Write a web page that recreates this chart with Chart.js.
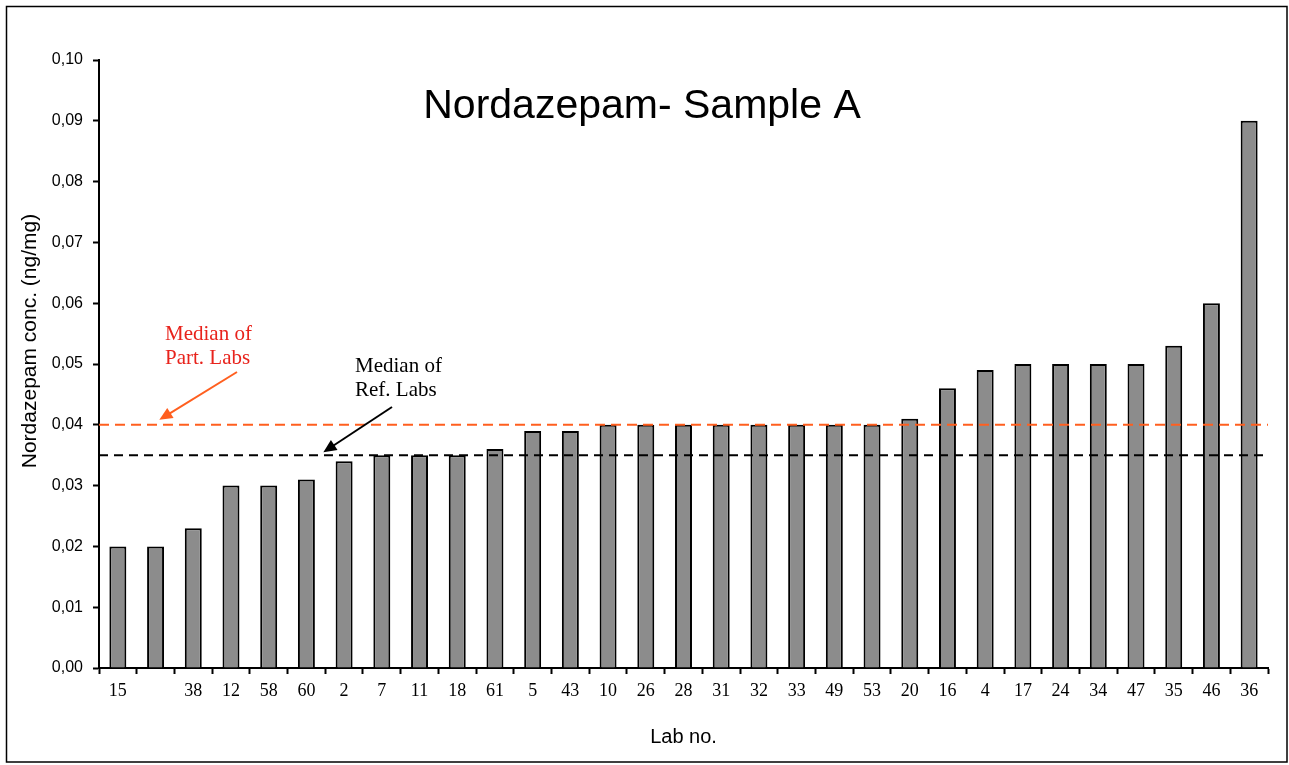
<!DOCTYPE html>
<html>
<head>
<meta charset="utf-8">
<script src="https://cdn.jsdelivr.net/npm/chart.js@4"></script>
<style>
  html, body { margin: 0; padding: 0; background: #fff; }
  #wrap { width: 1289px; height: 765px; position: relative; }
</style>
</head>
<body>
<div id="wrap"><canvas id="chart" width="1289" height="765"></canvas></div>
<script>
const LABS = ['15', '', '38', '12', '58', '60', '2', '7', '11', '18', '61', '5', '43', '10', '26', '28',
  '31', '32', '33', '49', '53', '20', '16', '4', '17', '24', '34', '47', '35', '46', '36'];
const CONC = [0.020, 0.020, 0.023, 0.030, 0.030, 0.031, 0.034, 0.035, 0.035, 0.035, 0.036, 0.039, 0.039,
  0.040, 0.040, 0.040, 0.040, 0.040, 0.040, 0.040, 0.040, 0.041, 0.046, 0.049, 0.050, 0.050, 0.050,
  0.050, 0.053, 0.060, 0.090];
const Y_MIN = 0, Y_MAX = 0.10, Y_STEP = 0.01;
const MEDIAN_PART = 0.040;
const MEDIAN_REF = 0.035;
const TITLE = 'Nordazepam- Sample A';
const Y_TITLE = 'Nordazepam conc. (ng/mg)';

const SANS = '"Liberation Sans", Arial, sans-serif';
const SERIF = '"Liberation Serif", "Times New Roman", serif';
const ORANGE = '#ff5f1f';
const RED = '#e8231c';

function arrow(ctx, x1, y1, x2, y2, color) {
  const ang = Math.atan2(y2 - y1, x2 - x1);
  const head = 13, wing = 6;
  ctx.save();
  ctx.strokeStyle = color;
  ctx.fillStyle = color;
  ctx.lineWidth = 2;
  ctx.beginPath();
  ctx.moveTo(x1, y1);
  ctx.lineTo(x2 - Math.cos(ang) * head * 0.8, y2 - Math.sin(ang) * head * 0.8);
  ctx.stroke();
  ctx.beginPath();
  ctx.moveTo(x2, y2);
  ctx.lineTo(x2 - Math.cos(ang) * head + Math.sin(ang) * wing, y2 - Math.sin(ang) * head - Math.cos(ang) * wing);
  ctx.lineTo(x2 - Math.cos(ang) * head - Math.sin(ang) * wing, y2 - Math.sin(ang) * head + Math.cos(ang) * wing);
  ctx.closePath();
  ctx.fill();
  ctx.restore();
}

const extras = {
  id: 'extras',
  beforeDraw(chart) {
    const ctx = chart.ctx;
    ctx.save();
    ctx.fillStyle = '#fff';
    ctx.fillRect(0, 0, chart.width, chart.height);
    ctx.strokeStyle = '#000';
    ctx.lineWidth = 1.5;
    ctx.strokeRect(6.5, 6.5, 1280.5, 755.5);
    ctx.restore();
  },
  afterDatasetsDraw(chart) {
    const ctx = chart.ctx;
    const area = chart.chartArea;
    const x = chart.scales.x, y = chart.scales.y;

    // median lines
    const yPart = y.getPixelForValue(MEDIAN_PART);
    const yRef = y.getPixelForValue(MEDIAN_REF);
    ctx.save();
    ctx.lineWidth = 2;
    ctx.setLineDash([10, 6]);
    ctx.strokeStyle = ORANGE;
    ctx.beginPath();
    ctx.moveTo(area.left, yPart);
    ctx.lineTo(area.right, yPart);
    ctx.stroke();
    ctx.setLineDash([9, 6]);
    ctx.strokeStyle = '#000';
    ctx.beginPath();
    ctx.moveTo(area.left, yRef);
    ctx.lineTo(area.right, yRef);
    ctx.stroke();
    ctx.restore();

    // annotations
    ctx.save();
    ctx.font = '21px ' + SERIF;
    ctx.textBaseline = 'middle';
    ctx.textAlign = 'left';
    ctx.fillStyle = RED;
    ctx.fillText('Median of', 165, 334);
    ctx.fillText('Part. Labs', 165, 358);
    ctx.fillStyle = '#000';
    ctx.fillText('Median of', 355, 366);
    ctx.fillText('Ref. Labs', 355, 390);
    ctx.restore();

    const tipPartX = x.getPixelForValue(1.1);
    const tipRefX = x.getPixelForValue(5.45);
    arrow(ctx, 237, 372, tipPartX, yPart - 5, ORANGE);
    arrow(ctx, 392, 407, tipRefX, yRef - 3, '#000');

    // chart title inside plot
    ctx.save();
    ctx.font = '41px ' + SANS;
    ctx.fillStyle = '#000';
    ctx.textAlign = 'center';
    ctx.textBaseline = 'middle';
    ctx.fillText(TITLE, 642, 107);
    ctx.restore();

    // y axis title
    ctx.save();
    ctx.translate(30, 341);
    ctx.rotate(-Math.PI / 2);
    ctx.font = '21px ' + SANS;
    ctx.fillStyle = '#000';
    ctx.textAlign = 'center';
    ctx.textBaseline = 'middle';
    ctx.fillText(Y_TITLE, 0, 0);
    ctx.restore();
  }
};

new Chart(document.getElementById('chart'), {
  type: 'bar',
  data: {
    labels: LABS,
    datasets: [{
      data: CONC,
      backgroundColor: '#8c8c8c',
      borderColor: '#000',
      borderWidth: 2,
      borderSkipped: 'bottom',
      categoryPercentage: 1,
      barPercentage: 0.45
    }]
  },
  options: {
    responsive: false,
    animation: false,
    layout: { padding: { left: 14, right: 21, top: 60, bottom: 12 } },
    plugins: {
      legend: { display: false },
      tooltip: { enabled: false }
    },
    scales: {
      x: {
        afterFit: s => { s.height = 85; },
        grid: { display: true, drawOnChartArea: false, drawTicks: true, tickLength: 6, tickWidth: 2, color: '#000' },
        border: { display: true, color: '#000', width: 2 },
        ticks: { color: '#000', font: { family: SERIF, size: 18 }, padding: 6, autoSkip: false, maxRotation: 0 },
        title: { display: true, text: 'Lab no.', color: '#000', font: { family: SANS, size: 20 }, padding: { top: 4, bottom: 4 } }
      },
      y: {
        min: Y_MIN,
        max: Y_MAX,
        afterFit: s => { s.width = 85; },
        grid: { display: true, drawOnChartArea: false, drawTicks: true, tickLength: 6, tickWidth: 2, color: '#000' },
        border: { display: true, color: '#000', width: 2 },
        ticks: {
          stepSize: Y_STEP,
          color: '#000',
          font: { family: SANS, size: 16 },
          padding: 10,
          callback: v => v.toFixed(2).replace('.', ',')
        },
        title: { display: false }
      }
    }
  },
  plugins: [extras]
});
</script>
</body>
</html>
